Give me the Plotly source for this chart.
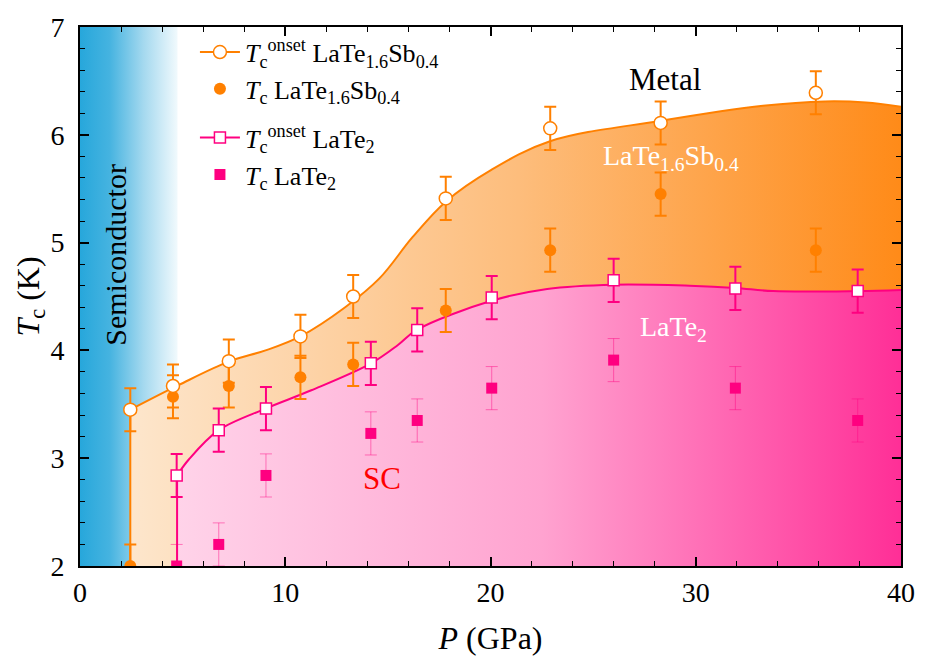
import plotly.graph_objects as go

# ---------------- data ----------------
# LaTe1.6Sb0.4
p_sb = [2.45, 4.53, 7.25, 10.74, 13.31, 17.82, 22.91, 28.29, 35.85]
tc_onset_sb = [3.45, 3.67, 3.90, 4.13, 4.50, 5.41, 6.06, 6.11, 6.39]
tc_sb = [2.00, 3.57, 3.67, 3.75, 3.87, 4.37, 4.93, 5.45, 4.93]
err_onset_sb = [0.2] * 9
err_sb = [0.2] * 9

# LaTe2
p_te = [4.71, 6.76, 9.06, 14.17, 16.43, 20.06, 26.00, 31.93, 37.89]
tc_onset_te = [2.84, 3.26, 3.46, 3.88, 4.19, 4.49, 4.65, 4.575, 4.55]
tc_te = [2.00, 2.20, 2.84, 3.23, 3.35, 3.65, 3.91, 3.65, 3.35]
err_onset_te = [0.2] * 9
err_te = [0.2] * 9

# phase boundaries (smooth curves)
bound_sb_p = [2.45, 4.82, 7.30, 9.04, 10.74, 12.92, 14.6, 16.2, 17.82, 20.0, 22.9, 28.29, 33.28, 36.3, 38.28, 40.0]
bound_sb_t = [3.45, 3.68, 3.90, 4.00, 4.13, 4.40, 4.67, 5.05, 5.38, 5.67, 5.94, 6.13, 6.27, 6.31, 6.30, 6.26]
bound_te_p = [4.73, 5.31, 6.76, 9.04, 11.27, 14.18, 15.49, 16.41, 20.05, 22.76, 26.01, 29.7, 31.93, 33.77, 37.89, 40.0]
bound_te_t = [2.84, 2.99, 3.26, 3.46, 3.63, 3.88, 4.05, 4.19, 4.46, 4.57, 4.61, 4.60, 4.58, 4.55, 4.55, 4.56]

semiconductor_p = [0.0, 4.75]
x_range = [0, 40]
y_range = [2, 7]
x_ticks = [0, 10, 20, 30, 40]
y_ticks = [2, 3, 4, 5, 6, 7]

ORANGE = "#ff8000"
PINK = "#ff0080"
FONT = "Liberation Serif"

fig = go.Figure()

# semiconductor region
fig.add_trace(go.Scatter(
    x=[semiconductor_p[0], semiconductor_p[1], semiconductor_p[1], semiconductor_p[0]],
    y=[y_range[0], y_range[0], y_range[1], y_range[1]],
    fill="toself", mode="none", showlegend=False, hoverinfo="skip",
    fillgradient=dict(type="horizontal", start=semiconductor_p[0], stop=semiconductor_p[1],
                      colorscale=[[0, "#27a7db"], [0.3, "#45b3e0"], [0.65, "#a5d9ef"], [1, "#f2fafd"]]),
))

# orange region (LaTe1.6Sb0.4 SC)
fig.add_trace(go.Scatter(
    x=bound_sb_p, y=bound_sb_t, mode="lines", line=dict(color=ORANGE, width=2, shape="spline", smoothing=1.0),
    fill="tozeroy", showlegend=False, hoverinfo="skip",
    fillgradient=dict(type="horizontal", start=bound_sb_p[0], stop=x_range[1],
                      colorscale=[[0, "#fde6cc"], [0.5, "#fdbd7c"], [1, "#ff8a17"]]),
))
fig.add_trace(go.Scatter(
    x=[bound_sb_p[0], bound_sb_p[0]], y=[y_range[0], bound_sb_t[0]], mode="lines",
    line=dict(color=ORANGE, width=2), showlegend=False, hoverinfo="skip"))

# pink region (LaTe2 SC)
fig.add_trace(go.Scatter(
    x=bound_te_p, y=bound_te_t, mode="lines", line=dict(color=PINK, width=2, shape="spline", smoothing=1.0),
    fill="tozeroy", showlegend=False, hoverinfo="skip",
    fillgradient=dict(type="horizontal", start=bound_te_p[0], stop=x_range[1],
                      colorscale=[[0, "#ffd3e9"], [0.5, "#ffa3d0"], [1, "#ff2d96"]]),
))
fig.add_trace(go.Scatter(
    x=[bound_te_p[0], bound_te_p[0]], y=[y_range[0], bound_te_t[0]], mode="lines",
    line=dict(color=PINK, width=2), showlegend=False, hoverinfo="skip"))

# data points
fig.add_trace(go.Scatter(
    x=p_te, y=tc_te, mode="markers", showlegend=False,
    marker=dict(symbol="square", size=11, color=PINK),
    error_y=dict(type="data", array=err_te, color="rgba(255,0,128,0.45)", thickness=1, width=6)))
fig.add_trace(go.Scatter(
    x=p_sb, y=tc_sb, mode="markers", showlegend=False,
    marker=dict(symbol="circle", size=12, color=ORANGE),
    error_y=dict(type="data", array=err_sb, color=ORANGE, thickness=2, width=6)))
fig.add_trace(go.Scatter(
    x=p_te, y=tc_onset_te, mode="markers", showlegend=False,
    marker=dict(symbol="square", size=11, color="white", line=dict(color=PINK, width=1.5)),
    error_y=dict(type="data", array=err_onset_te, color=PINK, thickness=2, width=6)))
fig.add_trace(go.Scatter(
    x=p_sb, y=tc_onset_sb, mode="markers", showlegend=False,
    marker=dict(symbol="circle", size=13, color="white", line=dict(color=ORANGE, width=1.5)),
    error_y=dict(type="data", array=err_onset_sb, color=ORANGE, thickness=2, width=6)))

# legend entries
fig.add_trace(go.Scatter(
    x=[None], y=[None], mode="lines+markers", legendgroup="a",
    name="<i>T</i><sub>c</sub><sup>onset</sup> LaTe<sub>1.6</sub>Sb<sub>0.4</sub>",
    line=dict(color=ORANGE, width=2),
    marker=dict(symbol="circle", size=13, color="white", line=dict(color=ORANGE, width=1.5))))
fig.add_trace(go.Scatter(
    x=[None], y=[None], mode="markers", legendgroup="a",
    name="<i>T</i><sub>c</sub> LaTe<sub>1.6</sub>Sb<sub>0.4</sub>",
    marker=dict(symbol="circle", size=12, color=ORANGE)))
fig.add_trace(go.Scatter(
    x=[None], y=[None], mode="lines+markers", legendgroup="b",
    name="<i>T</i><sub>c</sub><sup>onset</sup> LaTe<sub>2</sub>",
    line=dict(color=PINK, width=2),
    marker=dict(symbol="square", size=11, color="white", line=dict(color=PINK, width=1.5))))
fig.add_trace(go.Scatter(
    x=[None], y=[None], mode="markers", legendgroup="b",
    name="<i>T</i><sub>c</sub> LaTe<sub>2</sub>",
    marker=dict(symbol="square", size=11, color=PINK)))

axis_common = dict(
    showline=True, linecolor="black", linewidth=2, mirror="ticks",
    ticks="inside", ticklen=9, tickwidth=1.5, tickcolor="black",
    showgrid=False, zeroline=False,
    tickfont=dict(family=FONT, size=28, color="black"),
)

fig.update_layout(
    width=927, height=667,
    margin=dict(l=80, r=21, t=19, b=101),
    plot_bgcolor="white", paper_bgcolor="white",
    font=dict(family=FONT, color="black"),
    xaxis=dict(range=x_range, tickvals=x_ticks, ticklabelstandoff=0,
               minor=dict(dtick=2, ticks="inside", ticklen=5, tickwidth=1.2, tickcolor="black"),
               title=dict(text="<i>P</i> (GPa)", font=dict(family=FONT, size=32, color="black"), standoff=20),
               **axis_common),
    yaxis=dict(range=y_range, tickvals=y_ticks, ticklabelstandoff=8,
               minor=dict(dtick=0.2, ticks="inside", ticklen=5, tickwidth=1.2, tickcolor="black"),
               title=dict(text="<i>T</i><sub>c</sub> (K)", font=dict(family=FONT, size=32, color="black"), standoff=0),
               **axis_common),
    legend=dict(x=0.14, y=0.997, xanchor="left", yanchor="top", bgcolor="rgba(0,0,0,0)",
                font=dict(family=FONT, size=26, color="black"), traceorder="grouped",
                tracegroupgap=12, itemwidth=40),
    showlegend=True,
)

ann = [
    dict(x=1.72, y=4.89, text="Semiconductor", textangle=-90, font=dict(size=30, color="black")),
    dict(x=28.5, y=6.51, text="Metal", font=dict(size=31, color="black")),
    dict(x=28.8, y=5.79, text="LaTe<sub>1.6</sub>Sb<sub>0.4</sub>", font=dict(size=28, color="white")),
    dict(x=28.9, y=4.20, text="LaTe<sub>2</sub>", font=dict(size=28, color="white")),
    dict(x=14.7, y=2.81, text="SC", font=dict(size=31, color="#ff0000")),
]
for a in ann:
    a["font"]["family"] = FONT
    fig.add_annotation(xref="x", yref="y", showarrow=False, **a)

fig.write_html("out.html")
